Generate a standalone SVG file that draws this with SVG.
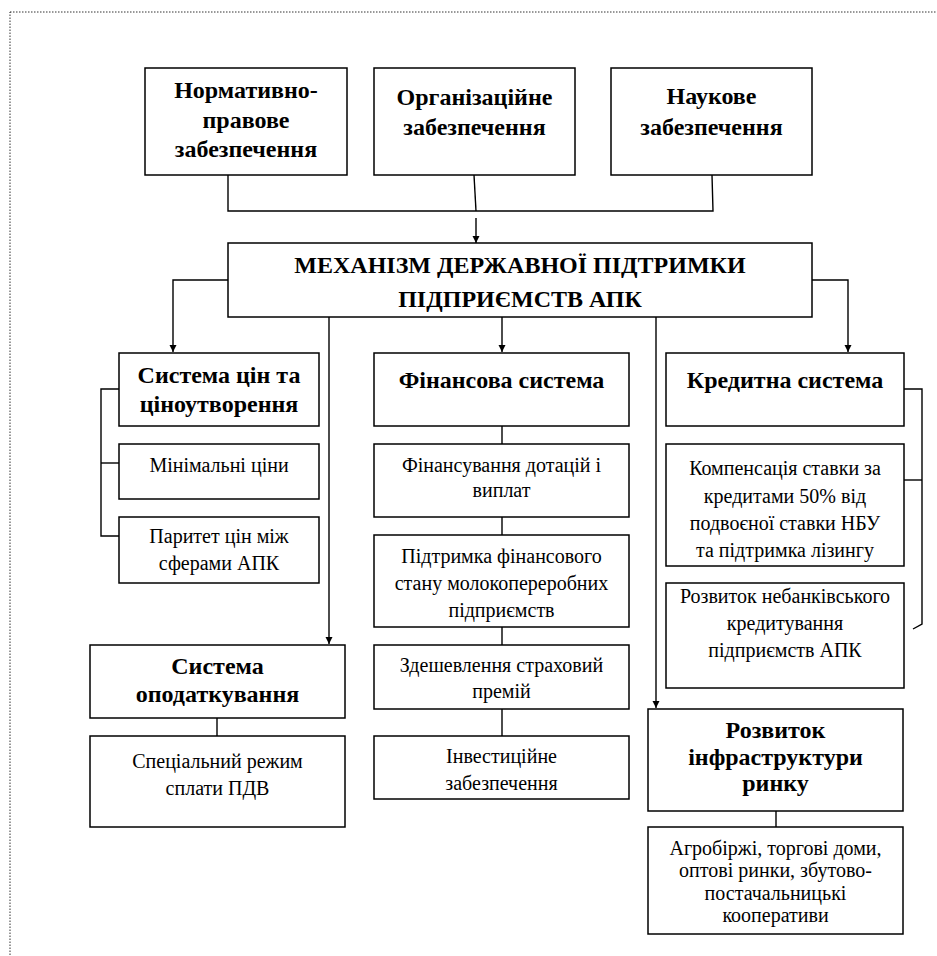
<svg xmlns="http://www.w3.org/2000/svg" width="937" height="956" viewBox="0 0 937 956">
<defs>
<marker id="arr" viewBox="0 0 10 10" refX="10" refY="5" markerWidth="7" markerHeight="8" markerUnits="userSpaceOnUse" orient="auto">
<path d="M0,0 L10,5 L0,10 z" fill="#000"/>
</marker>
<style>
.box{fill:#fff;stroke:#000;stroke-width:1.5}
.ln{fill:none;stroke:#000;stroke-width:1.4}
.a{fill:none;stroke:#000;stroke-width:1.4;marker-end:url(#arr)}
.b{font-weight:bold;font-size:24px}
.r{font-size:20px}
</style>
</defs>
<rect x="0" y="0" width="937" height="956" fill="#fff"/>
<rect x="10" y="12" width="960" height="980" fill="none" stroke="#333" stroke-width="1" stroke-dasharray="1.5,1.5"/>

<g id="connectors">
<polyline class="ln" points="228,175 228,211 713,211 712,175"/>
<line class="ln" x1="474" y1="175" x2="476" y2="211"/>
<line class="a" x1="476" y1="218" x2="476" y2="243"/>
<polyline class="a" points="228,280 173,280 173,352"/>
<polyline class="a" points="812,280 848,280 848,352"/>
<line class="a" x1="502" y1="317" x2="502" y2="352"/>
<line class="a" x1="329" y1="317" x2="329" y2="644"/>
<line class="a" x1="656" y1="317" x2="656" y2="708"/>
<polyline class="ln" points="119,389 101,389 101,536 119,536"/>
<line class="ln" x1="101" y1="463" x2="119" y2="463"/>
<line class="ln" x1="502" y1="426" x2="502" y2="444"/>
<line class="ln" x1="502" y1="517" x2="502" y2="535"/>
<line class="ln" x1="502" y1="627" x2="502" y2="645"/>
<line class="ln" x1="502" y1="709" x2="502" y2="736"/>
<line class="ln" x1="217" y1="718" x2="217" y2="736"/>
<line class="ln" x1="776" y1="811" x2="776" y2="827"/>
<polyline class="ln" points="904,389 922,389 922,624 913,629"/>
<line class="ln" x1="904" y1="480" x2="922" y2="480"/>
</g>

<g font-family="Liberation Serif, Times New Roman, Times, Tinos, Noto Serif, DejaVu Serif, FreeSerif, serif" text-anchor="middle" fill="#000">
<g id="n-normatyvno">
<rect class="box" x="145" y="68" width="202" height="107"/>
<text class="b" x="246" y="98">Нормативно-</text>
<text class="b" x="246" y="128">правове</text>
<text class="b" x="246" y="157">забезпечення</text>
</g>
<g id="n-orhanizatsiine">
<rect class="box" x="374" y="68" width="201" height="107"/>
<text class="b" x="474.5" y="105">Організаційне</text>
<text class="b" x="474.5" y="135">забезпечення</text>
</g>
<g id="n-naukove">
<rect class="box" x="611" y="68" width="201" height="107"/>
<text class="b" x="711.5" y="104">Наукове</text>
<text class="b" x="711.5" y="135">забезпечення</text>
</g>
<g id="n-mekhanizm">
<rect class="box" x="228" y="243" width="584" height="74"/>
<text class="b" x="520" y="273">МЕХАНІЗМ ДЕРЖАВНОЇ ПІДТРИМКИ</text>
<text class="b" x="520" y="307">ПІДПРИЄМСТВ АПК</text>
</g>

<g id="n-tsiny">
<rect class="box" x="119" y="353" width="200" height="73"/>
<text class="b" x="219" y="383">Система цін та</text>
<text class="b" x="219" y="412">ціноутворення</text>
</g>
<g id="n-minimalni">
<rect class="box" x="119" y="444" width="200" height="55"/>
<text class="r" x="219" y="472">Мінімальні ціни</text>
</g>
<g id="n-parytet">
<rect class="box" x="119" y="517" width="200" height="66"/>
<text class="r" x="219" y="543">Паритет цін між</text>
<text class="r" x="219" y="570">сферами АПК</text>
</g>

<g id="n-finansova">
<rect class="box" x="374" y="353" width="255" height="73"/>
<text class="b" x="501.5" y="388">Фінансова система</text>
</g>
<g id="n-dotatsii">
<rect class="box" x="374" y="444" width="255" height="73"/>
<text class="r" x="501.5" y="472">Фінансування дотацій і</text>
<text class="r" x="501.5" y="497">виплат</text>
</g>
<g id="n-pidtrymka">
<rect class="box" x="374" y="535" width="255" height="92"/>
<text class="r" x="501.5" y="563">Підтримка фінансового</text>
<text class="r" x="501.5" y="590">стану молокопереробних</text>
<text class="r" x="501.5" y="617">підприємств</text>
</g>
<g id="n-zdeshevlennia">
<rect class="box" x="374" y="645" width="255" height="64"/>
<text class="r" x="501.5" y="672">Здешевлення страховий</text>
<text class="r" x="501.5" y="698">премій</text>
</g>
<g id="n-investytsiine">
<rect class="box" x="374" y="736" width="255" height="63"/>
<text class="r" x="501.5" y="763">Інвестиційне</text>
<text class="r" x="501.5" y="790">забезпечення</text>
</g>

<g id="n-opodatkuvannia">
<rect class="box" x="90" y="645" width="255" height="73"/>
<text class="b" x="217.5" y="674">Система</text>
<text class="b" x="217.5" y="702">оподаткування</text>
</g>
<g id="n-pdv">
<rect class="box" x="90" y="736" width="255" height="91"/>
<text class="r" x="217.5" y="768">Спеціальний режим</text>
<text class="r" x="217.5" y="795">сплати ПДВ</text>
</g>

<g id="n-kredytna">
<rect class="box" x="666" y="353" width="238" height="73"/>
<text class="b" x="785" y="388">Кредитна система</text>
</g>
<g id="n-kompensatsiia">
<rect class="box" x="666" y="444" width="238" height="122"/>
<text class="r" x="785" y="475">Компенсація ставки за</text>
<text class="r" x="785" y="503">кредитами 50% від</text>
<text class="r" x="785" y="530">подвоєної ставки НБУ</text>
<text class="r" x="785" y="557">та підтримка лізингу</text>
</g>
<g id="n-nebankivske">
<rect class="box" x="666" y="583" width="238" height="105"/>
<text class="r" x="785" y="603">Розвиток небанківського</text>
<text class="r" x="785" y="630">кредитування</text>
<text class="r" x="785" y="657">підприємств АПК</text>
</g>

<g id="n-infrastruktura">
<rect class="box" x="648" y="709" width="255" height="102"/>
<text class="b" x="775.5" y="738">Розвиток</text>
<text class="b" x="775.5" y="765">інфраструктури</text>
<text class="b" x="775.5" y="791">ринку</text>
</g>
<g id="n-agro">
<rect class="box" x="648" y="827" width="255" height="107"/>
<text class="r" x="775.5" y="855">Агробіржі, торгові доми,</text>
<text class="r" x="775.5" y="877">оптові ринки, збутово-</text>
<text class="r" x="775.5" y="900">постачальницькі</text>
<text class="r" x="775.5" y="922">кооперативи</text>
</g>
</g>
</svg>
